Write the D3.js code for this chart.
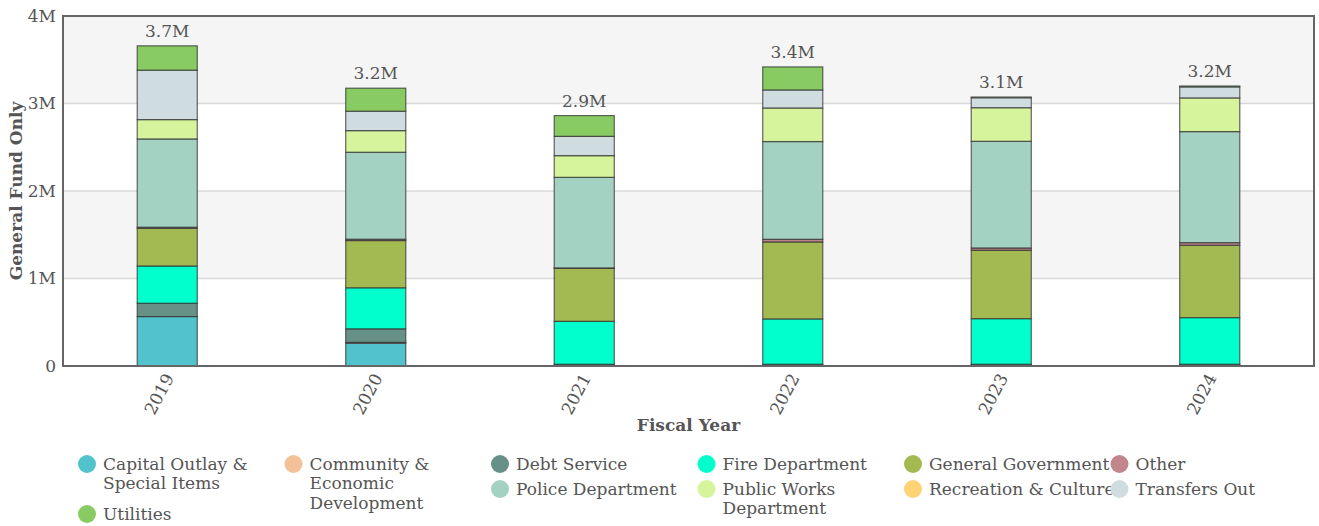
<!DOCTYPE html>
<html>
<head>
<meta charset="utf-8">
<script src="https://cdn.jsdelivr.net/npm/d3@7"></script>
<style>
  body { margin: 0; background: #fff; }
  svg { display: block; font-family: "DejaVu Serif", serif; }
  svg text { font-family: "DejaVu Serif", serif; }
  .tick text { fill: #555; font-size: 17px; }
  .lbl { fill: #555; font-size: 17px; }
  .leg { fill: #555; font-size: 17px; }
</style>
</head>
<body>
<svg id="chart" width="1319" height="526"></svg>
<script>
// fiscal years on the x axis
const years = ["2019", "2020", "2021", "2022", "2023", "2024"];

// expense categories, bottom to top of each stack
const categories = [
  "Capital Outlay & Special Items",
  "Community & Economic Development",
  "Debt Service",
  "Fire Department",
  "General Government",
  "Other",
  "Police Department",
  "Public Works Department",
  "Recreation & Culture",
  "Transfers Out",
  "Utilities"
];

const colors = ["#52c3cc", "#f4c095", "#679186", "#00ffcc", "#a3b952", "#c0868b",
                "#a4d2c2", "#d5f49c", "#ffd275", "#cfdde1", "#88cb62"];

// values in millions of dollars, one per year
const capitalOutlay = [0.565, 0.26, 0.012, 0.012, 0.012, 0.012];
const communityDev  = [0, 0.01, 0, 0, 0, 0];
const debtService   = [0.152, 0.155, 0.008, 0.008, 0.008, 0.008];
const fireDept      = [0.426, 0.469, 0.491, 0.518, 0.521, 0.533];
const generalGov    = [0.431, 0.54, 0.606, 0.88, 0.782, 0.827];
const other         = [0.012, 0.015, 0.004, 0.03, 0.026, 0.03];
const policeDept    = [1.009, 0.994, 1.035, 1.117, 1.219, 1.269];
const publicWorks   = [0.221, 0.247, 0.248, 0.384, 0.384, 0.385];
const recreation    = [0, 0, 0, 0, 0, 0];
const transfersOut  = [0.565, 0.222, 0.221, 0.206, 0.114, 0.126];
const utilities     = [0.278, 0.263, 0.237, 0.263, 0.008, 0.01];

const yTicks = [0, 1e6, 2e6, 3e6, 4e6];

const seriesValues = [capitalOutlay, communityDev, debtService, fireDept, generalGov, other,
                      policeDept, publicWorks, recreation, transfersOut, utilities];

// table for d3.stack
const rows = years.map((yr, i) => {
  const r = { year: yr };
  categories.forEach((c, k) => { r[c] = seriesValues[k][i] * 1e6; });
  return r;
});

const svg = d3.select("#chart");
const margin = { left: 63, right: 5, top: 16, bottom: 160 };
const W = 1319, H = 526;
const x0 = margin.left, x1 = W - margin.right, y0 = H - margin.bottom, y1 = margin.top;

const x = d3.scaleBand().domain(years).range([x0, x1]).paddingInner(0.712).paddingOuter(0.356);
const y = d3.scaleLinear().domain([0, 4e6]).range([y0, y1]);
const color = d3.scaleOrdinal().domain(categories).range(colors);

// alternating bands
const bands = d3.pairs(yTicks).filter((p, i) => i % 2 == 1);
svg.append("g").selectAll("rect")
  .data(bands).enter().append("rect")
  .attr("x", x0).attr("width", x1 - x0)
  .attr("y", d => y(d[1])).attr("height", d => y(d[0]) - y(d[1]))
  .attr("fill", "#f5f5f5");

// gridlines
svg.append("g").selectAll("line")
  .data(yTicks.slice(1, -1)).enter().append("line")
  .attr("x1", x0).attr("x2", x1)
  .attr("y1", d => y(d)).attr("y2", d => y(d))
  .attr("stroke", "#d9d9d9").attr("stroke-width", 1.5);

const stacked = d3.stack().keys(categories)(rows);

svg.append("g").selectAll("g")
  .data(stacked).enter().append("g")
  .attr("fill", d => color(d.key))
  .selectAll("rect")
  .data(d => d.filter(s => s[1] - s[0] > 0)).enter().append("rect")
  .attr("x", d => x(d.data.year))
  .attr("width", x.bandwidth())
  .attr("y", d => y(d[1]))
  .attr("height", d => y(d[0]) - y(d[1]))
  .attr("stroke", "#333")
  .attr("stroke-opacity", 0.75)
  .attr("stroke-width", 1.2);

// totals above bars
const fmt = d3.format(".2s");
svg.append("g").selectAll("text")
  .data(rows).enter().append("text")
  .attr("class", "lbl")
  .attr("x", d => x(d.year) + x.bandwidth() / 2)
  .attr("y", d => y(d3.sum(categories, c => d[c])) - 9)
  .attr("text-anchor", "middle")
  .text(d => fmt(d3.sum(categories, c => d[c])));

// axes
const yAxis = svg.append("g")
  .attr("transform", `translate(${x0},0)`)
  .call(d3.axisLeft(y).tickValues(yTicks).tickFormat(d3.format("~s")).tickSize(0).tickPadding(7));
yAxis.select(".domain").remove();

const xAxis = svg.append("g")
  .attr("transform", `translate(0,${y0})`)
  .call(d3.axisBottom(x).tickSize(0).tickPadding(0));
xAxis.select(".domain").remove();
xAxis.selectAll(".tick text")
  .attr("text-anchor", "end")
  .attr("dy", "0.35em")
  .attr("transform", "translate(2,9) rotate(-62)");

// frame
svg.append("rect")
  .attr("x", x0).attr("y", y1)
  .attr("width", x1 - x0).attr("height", y0 - y1)
  .attr("fill", "none").attr("stroke", "#666").attr("stroke-width", 2);

// axis titles
svg.append("text")
  .attr("transform", `translate(22,${(y0 + y1) / 2}) rotate(-90)`)
  .attr("text-anchor", "middle")
  .attr("fill", "#555").attr("font-weight", "bold").attr("font-size", 17)
  .text("General Fund Only");

svg.append("text")
  .attr("x", (x0 + x1) / 2).attr("y", 431)
  .attr("text-anchor", "middle")
  .attr("fill", "#555").attr("font-weight", "bold").attr("font-size", 17)
  .text("Fiscal Year");

// legend: 6 columns, each item drops into the shortest column
const nCols = 6, colW = 206.5, rowH = 25, lineH = 19.5, maxW = 192;
const colHeights = new Array(nCols).fill(0);
const legend = svg.append("g").attr("transform", "translate(87,464)");

categories.forEach(c => {
  const g = legend.append("g");
  const t = g.append("text").attr("class", "leg");
  // wrap words
  const words = c.split(" ");
  let line = [], nLines = 1;
  let ts = t.append("tspan").attr("x", 16).attr("dy", "0.35em");
  words.forEach(w => {
    line.push(w);
    ts.text(line.join(" "));
    if (ts.node().getComputedTextLength() > maxW && line.length > 1) {
      line.pop();
      ts.text(line.join(" "));
      line = [w];
      ts = t.append("tspan").attr("x", 16).attr("dy", lineH).text(w);
      nLines++;
    }
  });
  let col = 0;
  for (let k = 1; k < nCols; k++) if (colHeights[k] < colHeights[col]) col = k;
  g.attr("transform", `translate(${col * colW},${colHeights[col] * rowH})`);
  colHeights[col] += nLines;
  g.insert("circle", "text").attr("r", 9).attr("fill", color(c));
});
</script>
</body>
</html>
